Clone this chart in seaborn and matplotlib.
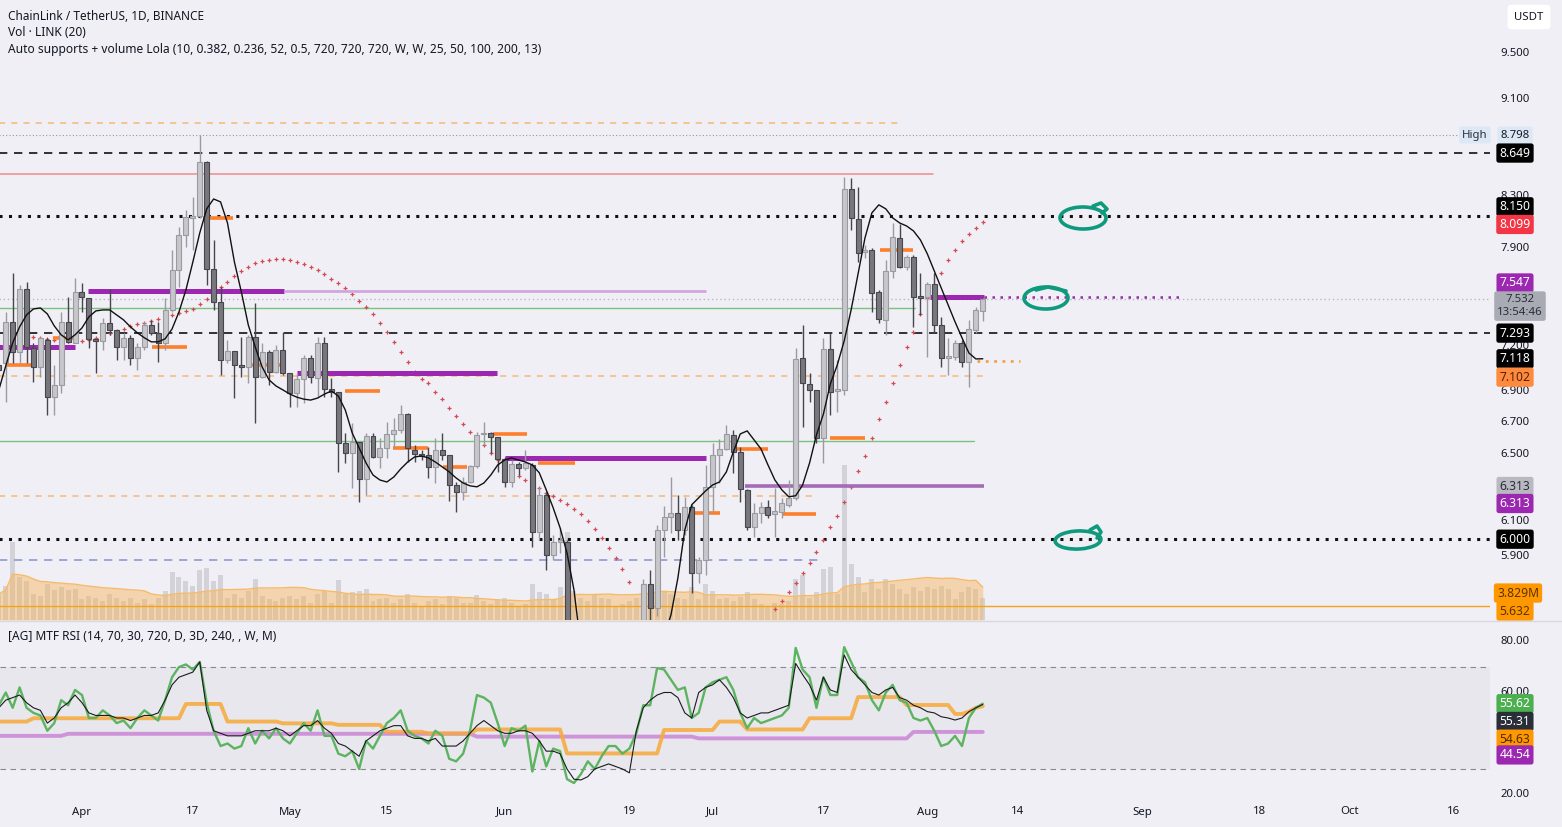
import numpy as np
import pandas as pd
import matplotlib
matplotlib.use("Agg")
import matplotlib.pyplot as plt
import seaborn as sns
from matplotlib.patches import Ellipse
from matplotlib.lines import Line2D
from matplotlib.ticker import NullLocator

# ---------------- DATA ----------------
first_date = "2023-03-20"
last_date = "2023-08-09"
ref_date = "2023-04-01"

opens = [7.076, 7.090, 7.371, 7.164, 7.604, 7.191, 7.063, 7.247, 6.864, 6.944,
         7.371, 7.226, 7.583, 7.540, 7.254, 7.240, 7.364, 7.315, 7.198, 7.261,
         7.124, 7.198, 7.350, 7.295, 7.226, 7.455, 7.743, 8.004, 8.134, 8.149,
         8.577, 7.750, 7.512, 7.110, 7.171, 7.076, 7.063, 7.267, 6.997, 7.164,
         7.030, 7.178, 7.023, 6.891, 6.984, 7.124, 6.990, 7.226, 6.918, 6.898,
         6.572, 6.510, 6.579, 6.352, 6.616, 6.486, 6.541, 6.629, 6.654, 6.755,
         6.529, 6.504, 6.498, 6.425, 6.529, 6.498, 6.316, 6.275, 6.334, 6.431,
         6.629, 6.635, 6.610, 6.474, 6.334, 6.443, 6.419, 6.437, 6.042, 6.258,
         5.911, 5.985, 5.985, 5.25, 5.30, 5.22, 5.28, 5.12, 5.19, 5.30,
         5.35, 5.26, 5.31, 5.40, 5.75, 5.62, 6.053, 6.129, 6.152, 6.053,
         6.187, 5.811, 5.883, 6.305, 6.498, 6.535, 6.623, 6.517, 6.287, 6.071,
         6.152, 6.187, 6.146, 6.158, 6.199, 6.240, 7.124, 6.951, 6.911, 6.604,
         7.184, 6.904, 6.911, 8.360, 8.126, 7.876, 7.891, 7.583, 7.385, 7.736,
         7.981, 7.765, 7.839, 7.554, 7.547, 7.641, 7.350, 7.124, 7.130, 7.226,
         7.097, 7.315, 7.448]
highs = [7.110, 7.441, 7.721, 7.633, 7.655, 7.226, 7.267, 7.261, 7.076, 7.441,
         7.547, 7.685, 7.648, 7.540, 7.254, 7.399, 7.604, 7.315, 7.295, 7.281,
         7.226, 7.371, 7.385, 7.371, 7.540, 7.891, 8.064, 8.196, 8.296, 8.798,
         8.585, 7.966, 7.619, 7.247, 7.171, 7.267, 7.281, 7.505, 7.226, 7.178,
         7.212, 7.302, 7.023, 7.023, 7.144, 7.144, 7.267, 7.267, 6.990, 6.898,
         6.635, 6.698, 6.579, 6.635, 6.635, 6.604, 6.704, 6.730, 6.813, 6.762,
         6.560, 6.529, 6.548, 6.604, 6.635, 6.498, 6.334, 6.364, 6.437, 6.641,
         6.704, 6.641, 6.610, 6.486, 6.467, 6.455, 6.529, 6.449, 6.305, 6.269,
         6.025, 6.065, 5.996, 5.42, 5.34, 5.38, 5.40, 5.25, 5.35, 5.41,
         5.40, 5.35, 5.45, 5.78, 5.83, 6.08, 6.193, 6.364, 6.258, 6.246,
         6.199, 5.900, 6.437, 6.572, 6.597, 6.685, 6.654, 6.548, 6.293, 6.210,
         6.216, 6.228, 6.299, 6.240, 6.346, 7.191, 7.350, 7.023, 6.911, 7.261,
         7.295, 7.110, 8.455, 8.447, 8.375, 7.928, 7.906, 7.597, 7.816, 8.095,
         8.087, 7.854, 7.854, 7.721, 7.655, 7.721, 7.406, 7.261, 7.247, 7.247,
         7.385, 7.476, 7.540]
lows = [7.010, 6.832, 7.090, 7.090, 7.090, 6.964, 6.997, 6.749, 6.749, 6.891,
        7.226, 7.226, 7.441, 7.191, 7.023, 7.178, 7.281, 7.110, 7.110, 7.076,
        7.043, 7.178, 7.281, 7.097, 7.178, 7.441, 7.619, 7.913, 7.891, 8.134,
        7.633, 7.455, 7.010, 7.090, 6.858, 6.997, 6.957, 6.698, 6.990, 6.944,
        7.023, 7.010, 6.800, 6.800, 6.825, 6.957, 6.864, 6.864, 6.864, 6.395,
        6.449, 6.299, 6.216, 6.258, 6.480, 6.419, 6.480, 6.541, 6.635, 6.455,
        6.455, 6.467, 6.358, 6.328, 6.467, 6.222, 6.157, 6.228, 6.328, 6.419,
        6.560, 6.510, 6.395, 6.305, 6.305, 6.376, 6.407, 5.956, 5.996, 5.828,
        5.883, 5.922, 4.95, 5.17, 5.14, 5.18, 5.08, 5.00, 5.13, 5.26,
        5.22, 5.20, 5.28, 5.38, 5.55, 5.58, 5.900, 6.036, 5.996, 6.025,
        5.703, 5.757, 5.800, 6.152, 6.328, 6.529, 6.389, 6.216, 6.053, 6.013,
        6.094, 6.123, 6.013, 6.123, 6.187, 6.228, 6.673, 6.832, 6.572, 6.449,
        6.749, 6.768, 6.878, 8.041, 7.801, 7.831, 7.441, 7.364, 7.281, 7.685,
        7.758, 7.743, 7.336, 7.420, 7.130, 7.295, 7.063, 7.010, 7.110, 7.063,
        6.931, 7.295, 7.378]
closes = [7.043, 7.371, 7.164, 7.604, 7.198, 7.063, 7.261, 6.864, 6.944, 7.371,
          7.233, 7.583, 7.547, 7.254, 7.240, 7.364, 7.315, 7.198, 7.261, 7.124,
          7.198, 7.350, 7.295, 7.226, 7.455, 7.743, 8.004, 8.142, 8.149, 8.577,
          7.750, 7.512, 7.110, 7.171, 7.076, 7.063, 7.267, 6.997, 7.164, 7.030,
          7.178, 7.023, 6.891, 6.984, 7.124, 6.997, 7.226, 6.918, 6.898, 6.572,
          6.510, 6.579, 6.352, 6.616, 6.486, 6.541, 6.629, 6.654, 6.755, 6.541,
          6.504, 6.492, 6.425, 6.529, 6.498, 6.316, 6.275, 6.334, 6.431, 6.623,
          6.635, 6.610, 6.474, 6.334, 6.443, 6.419, 6.449, 6.042, 6.258, 5.911,
          5.985, 5.996, 5.25, 5.30, 5.22, 5.28, 5.12, 5.19, 5.30, 5.35,
          5.26, 5.31, 5.40, 5.75, 5.62, 6.053, 6.129, 6.152, 6.053, 6.187,
          5.811, 5.883, 6.305, 6.498, 6.535, 6.629, 6.517, 6.293, 6.071, 6.152,
          6.187, 6.140, 6.164, 6.210, 6.240, 7.117, 6.957, 6.911, 6.604, 7.184,
          6.898, 6.918, 8.360, 8.134, 7.868, 7.891, 7.576, 7.392, 7.736, 7.989,
          7.765, 7.839, 7.547, 7.540, 7.641, 7.350, 7.124, 7.137, 7.226, 7.097,
          7.322, 7.455, 7.532]
volume_m = [3.0, 4.0, 9.0, 5.0, 4.5, 3.0, 2.8, 4.2, 3.5, 3.8,
            3.5, 3.6, 2.4, 2.8, 2.6, 2.2, 3.0, 2.5, 2.2, 2.6,
            2.0, 2.4, 1.8, 2.6, 3.4, 5.6, 5.0, 4.5, 4.0, 5.8,
            6.0, 4.5, 5.2, 2.5, 3.0, 2.6, 3.4, 4.8, 2.8, 2.4,
            2.2, 2.6, 2.8, 2.4, 2.8, 2.0, 3.0, 3.4, 2.0, 4.6,
            3.0, 3.2, 3.4, 3.6, 2.2, 2.4, 2.6, 2.0, 2.4, 3.0,
            2.0, 1.6, 2.2, 2.4, 1.8, 2.8, 2.6, 2.0, 2.0, 2.9,
            2.2, 1.8, 2.4, 2.6, 2.0, 1.6, 1.8, 4.2, 3.2, 3.0,
            2.4, 3.8, 10.2, 3.4, 2.6, 2.2, 2.9, 2.6, 2.4, 1.6,
            1.8, 2.2, 2.6, 3.8, 3.6, 4.8, 3.4, 3.0, 2.6, 2.4,
            3.8, 2.4, 4.2, 3.4, 2.4, 2.6, 2.2, 2.7, 3.3, 2.4,
            1.8, 1.6, 2.0, 1.8, 2.2, 4.8, 5.2, 2.6, 3.2, 5.9,
            6.1, 3.0, 18.0, 6.5, 5.0, 3.3, 4.8, 3.6, 4.8, 4.2,
            3.6, 3.0, 3.8, 3.4, 3.8, 3.6, 4.0, 3.6, 2.4, 3.2,
            3.8, 3.6, 2.6]
# smoothed black curve of the "Auto supports" script
curve = [6.911, 7.070, 7.226, 7.336, 7.420, 7.462, 7.469, 7.427, 7.343, 7.281,
         7.247, 7.281, 7.329, 7.406, 7.448, 7.455, 7.455, 7.420, 7.385, 7.336,
         7.295, 7.261, 7.233, 7.233, 7.254, 7.322, 7.441, 7.597, 7.801, 8.019,
         8.204, 8.281, 8.258, 8.095, 7.801, 7.583, 7.350, 7.198, 7.063, 6.977,
         6.937, 6.911, 6.884, 6.864, 6.851, 6.845, 6.858, 6.884, 6.904, 6.871,
         6.781, 6.635, 6.541, 6.449, 6.376, 6.346, 6.334, 6.364, 6.413, 6.455,
         6.486, 6.492, 6.480, 6.455, 6.425, 6.395, 6.358, 6.328, 6.311, 6.305,
         6.328, 6.376, 6.437, 6.467, 6.480, 6.467, 6.455, 6.437, 6.389, 6.287,
         6.181, 6.065, 5.922, 5.719, 5.42, 5.25, 5.16, 5.11, 5.09, 5.10,
         5.13, 5.17, 5.22, 5.28, 5.33, 5.39, 5.47, 5.585, 5.784, 6.053,
         6.199, 6.240, 6.281, 6.316, 6.334, 6.395, 6.517, 6.629, 6.648, 6.591,
         6.535, 6.437, 6.346, 6.287, 6.246, 6.252, 6.316, 6.449, 6.623, 6.755,
         6.951, 7.076, 7.240, 7.455, 7.714, 7.981, 8.173, 8.235, 8.204, 8.134,
         8.095, 8.072, 8.034, 7.966, 7.861, 7.736, 7.611, 7.491, 7.371, 7.261,
         7.157, 7.117, 7.118]
# red "+" projection arcs (day offsets from Apr 1)
arc1_first_day = -7
arc1 = [7.268, 7.261, 7.254, 7.247, 7.240, 7.240, 7.240, 7.240, 7.247, 7.261,
        7.274, 7.295, 7.308, 7.322, 7.343, 7.357, 7.364, 7.378, 7.392, 7.413,
        7.420, 7.434, 7.448, 7.462, 7.498, 7.533, 7.575, 7.619, 7.655, 7.699,
        7.736, 7.765, 7.794, 7.809, 7.816, 7.824, 7.824, 7.816, 7.801, 7.786,
        7.765, 7.743, 7.714, 7.677, 7.648, 7.611, 7.568, 7.519, 7.476, 7.427,
        7.364, 7.302, 7.233, 7.164, 7.097, 7.030, 6.984, 6.957, 6.898, 6.851,
        6.794, 6.743, 6.692, 6.641, 6.604, 6.560, 6.510, 6.467, 6.431, 6.395,
        6.370, 6.346, 6.322, 6.299, 6.269, 6.252, 6.228, 6.205, 6.175, 6.146,
        6.105, 6.059, 6.007, 5.950, 5.894, 5.834, 5.762]
arc2_first_day = 100
arc2 = [5.617, 5.660, 5.708, 5.757, 5.811, 5.866, 5.928, 5.996, 6.071, 6.134,
        6.216, 6.305, 6.401, 6.492, 6.604, 6.723, 6.832, 6.957, 7.076, 7.198,
        7.302, 7.427, 7.540, 7.633, 7.721, 7.816, 7.891, 7.958, 8.011, 8.057, 8.099]

# horizontal levels: price, from-day, to-day (None = to right edge), kind
lvl_price = [8.900, 8.798, 8.649, 8.480, 8.150, 7.532, 7.469, 7.293, 7.003, 6.585, 6.252, 6.000, 5.883, 5.632]
lvl_from = [-12, -12, -12, -12, -12, -12, -12, -12, -12, -12, -12, -12, -12, -12]
lvl_to = [117.7, None, None, 122.8, None, None, 120.2, None, 130.3, 128.8, 105.8, None, 106.5, None]
lvl_kind = ["odash", "gdot", "kdash", "red", "kdot", "gdot2", "green", "kdash", "odash", "green", "odash", "kdot", "bdash", "osolid"]

# purple volume-profile levels
pur_price = [7.590, 7.590, 7.198, 7.023, 6.480, 6.313, 7.547, 7.547]
pur_from = [0.9, 29.1, -12.0, 31.0, 61.0, 95.7, 122.4, 130.2]
pur_to = [29.1, 90.0, -1.0, 59.9, 90.0, 130.2, 130.2, 158.9]
pur_kind = ["thick", "light", "thick", "thick", "thick", "mid", "thick", "dot"]

# orange support ticks
sup_price = [7.076, 7.261, 7.198, 8.134, 7.076, 6.904, 6.541, 6.425, 6.629, 6.449, 6.152, 6.535, 6.146, 6.604, 7.891]
sup_from = [-10.8, -4.2, 10.1, 17.5, 23.8, 38.0, 44.9, 52.1, 59.3, 65.8, 87.7, 93.9, 101.2, 107.9, 115.2]
sup_to = [-7.1, -0.7, 15.2, 21.8, 29.0, 43.0, 49.9, 55.6, 64.2, 71.1, 92.1, 99.0, 106.0, 113.0, 119.9]
sup_last = (7.102, 129.1, 135.4)

# MTF RSI
rsi_d = [55, 60, 54, 62, 54, 52, 51, 45, 48, 57,
         55, 61, 59, 50, 50, 53, 51, 48, 49, 46,
         50, 53, 51, 49, 57, 66, 70, 71, 69, 72,
         56, 45, 39, 40, 38, 39, 46, 40, 45, 42,
         46, 42, 40, 44, 48, 45, 53, 43, 43, 36,
         35, 37, 30, 41, 38, 43, 48, 50, 53, 45,
         43, 42, 40, 45, 43, 34, 33, 36, 45, 59,
         58, 56, 48, 39, 46, 45, 47, 29, 41, 31,
         38, 37, 26, 24.5, 28, 33, 30, 35, 39, 39,
         36, 38, 44, 55, 55, 69.6, 69, 65, 61, 62,
         50, 52, 62, 64, 65, 66, 61, 52, 46, 50,
         48, 49, 50, 51, 54, 77.5, 69, 66, 54, 66,
         59, 59, 77.8, 72, 66, 64, 57, 53, 60, 63,
         57, 56, 50, 49, 50, 45, 39, 40, 43, 39,
         50, 54, 55.62]
rsi_240 = [54, 57, 58, 59, 56, 54, 53, 48, 50, 54,
           56, 59, 56, 52, 51, 51, 51, 50, 50, 49,
           50, 51, 51, 52, 57, 63, 66, 67, 68, 72,
           53, 45, 44, 43, 43, 43, 44, 45, 45, 45,
           46, 45, 43, 45, 47, 47, 49, 46, 44, 40,
           39, 37, 35, 41, 43, 45, 46, 47, 47, 43,
           42, 42, 41, 42, 39, 39, 39, 41, 44, 47,
           49, 47, 45, 44, 44, 45, 45, 44, 41, 37,
           37, 36, 30, 26, 25.7, 27, 30, 31, 32, 31,
           30, 28.5, 45, 54, 57, 59, 60, 60, 58, 52,
           50, 60, 62, 63, 65, 62, 58, 52, 50, 51,
           52, 52, 53, 54, 55, 71.4, 67, 63, 57, 66,
           61, 60, 74.7, 69, 66, 63, 60, 59, 61, 62,
           58, 57, 55, 54, 52.5, 52, 50.5, 50, 49.2, 50,
           52.5, 54, 55.31]
rsi_3d_start = [-12, -7, 15, 21, 29, 37, 44, 50, 57, 70, 84, 92, 96, 105, 112, 119, 126, 128, 129, 130]
rsi_3d_level = [48.6, 49.9, 55.5, 48.6, 47.9, 47.3, 44.6, 44.0, 45.5, 36.1, 45.3, 48.6, 45.5, 49.9, 58.2, 55.1, 51.6, 52.5, 54.0, 54.63]
rsi_m_start = [-12, -2, 57, 89, 120]
rsi_m_level = [43.0, 43.8, 42.7, 42.0, 44.54]

price_ticks = [9.5, 9.1, 8.3, 7.9, 7.2, 6.9, 6.7, 6.5, 6.1, 5.9]
rsi_ticks = [80, 60, 20]
date_ticks = ["2023-04-01", "2023-04-17", "2023-05-01", "2023-05-15", "2023-06-01", "2023-06-19", "2023-07-01",
              "2023-07-17", "2023-08-01", "2023-08-14", "2023-09-01", "2023-09-18", "2023-10-01", "2023-10-16"]
date_labels = ["Apr", "17", "May", "15", "Jun", "19", "Jul", "17", "Aug", "14", "Sep", "18", "Oct", "16"]

# ---------------- PREP ----------------
dates = pd.date_range(first_date, last_date, freq="D")
ref = pd.Timestamp(ref_date)
days = np.array((dates - ref).days, dtype=float)
o, h, l, c = map(np.array, (opens, highs, lows, closes))
vol = np.array(volume_m)
for arr in (o, h, l, c, vol, curve, rsi_d, rsi_240):
    assert len(arr) == len(days), len(arr)
vol_ma = pd.Series(vol).rolling(20, min_periods=1).mean().values


def expand_steps(starts, levels):
    out = []
    for d in days:
        idx = max(i for i, s in enumerate(starts) if s <= d)
        out.append(levels[idx])
    return np.array(out)


rsi_3d = expand_steps(rsi_3d_start, rsi_3d_level)
rsi_m = expand_steps(rsi_m_start, rsi_m_level)
df_rsi = pd.DataFrame({"day": days, "d": rsi_d, "h4": rsi_240, "d3": rsi_3d, "m": rsi_m})
df_curve = pd.DataFrame({"day": days, "v": curve})
arc1_days = np.arange(len(arc1)) + arc1_first_day
arc2_days = np.arange(len(arc2)) + arc2_first_day

# ---------------- STYLE ----------------
W, H = 1562, 827
BG = "#f0eff5"
TXT = "#131722"
sns.set_theme(style="white")
plt.rcParams["font.family"] = ["Noto Sans", "DejaVu Sans"]

fig = plt.figure(figsize=(W / 100, H / 100), dpi=100, facecolor=BG)
XL = (-11.83, 203.2)
pane_w = 1490 / W
main_rect = [0, 1 - 620 / H, pane_w, 620 / H]
rsi_rect = [0, 1 - 800 / H, pane_w, 178 / H]

ax_v = fig.add_axes(main_rect)
ax = fig.add_axes(main_rect)
ax_r = fig.add_axes(rsi_rect)
ax.patch.set_visible(False)
for a in (ax_v, ax, ax_r):
    a.set_facecolor(BG)
    for s in a.spines.values():
        s.set_visible(False)
    a.set_xlim(*XL)

# volume
ax_v.set_ylim(0, 620 / 8.62)
ax_v.bar(days, vol, width=0.72, color="#c6c6cd", alpha=0.7, lw=0)
ax_v.fill_between(days, 0, vol_ma, color="#f7b558", alpha=0.45, lw=0)
ax_v.plot(days, vol_ma, color="#f6bb6a", lw=1)
ax_v.set_xticks([]); ax_v.set_yticks([])

# price
ax.set_yscale("log")
ax.set_ylim(5.558, 9.998)
for a in (ax, ax_r):
    a.xaxis.set_major_locator(NullLocator()); a.xaxis.set_minor_locator(NullLocator())
    a.yaxis.set_major_locator(NullLocator()); a.yaxis.set_minor_locator(NullLocator())

lvl_styles = {
    "odash": dict(color="#f6b26b", lw=1.1, dashes=(4, 4), alpha=0.9),
    "gdot": dict(color="#9598a1", lw=0.8, dashes=(1, 2)),
    "gdot2": dict(color="#b8b9c2", lw=1.0, dashes=(1, 2)),
    "kdash": dict(color="#111111", lw=1.2, dashes=(5, 4)),
    "kdot": dict(color="#111111", lw=2.2, dashes=(1, 2.1)),
    "red": dict(color="#f08a8a", lw=1.1),
    "green": dict(color="#7cc27f", lw=1.0),
    "bdash": dict(color="#8c9ad4", lw=1.2, dashes=(5, 4)),
    "osolid": dict(color="#f7a21b", lw=1.0),
}
for p, f, t, k in zip(lvl_price, lvl_from, lvl_to, lvl_kind):
    ax.plot([f, t if t is not None else XL[1]], [p, p], zorder=2, **lvl_styles[k])

pur_styles = {
    "thick": dict(color="#9c27b0", lw=3.6, solid_capstyle="butt"),
    "light": dict(color="#d3a5de", lw=2.0, solid_capstyle="butt"),
    "mid": dict(color="#a46cb6", lw=2.6, solid_capstyle="butt"),
    "dot": dict(color="#9c27b0", lw=1.8, dashes=(1, 2.2)),
}
for p, f, t, k in zip(pur_price, pur_from, pur_to, pur_kind):
    ax.plot([f, t], [p, p], zorder=4, **pur_styles[k])

for p, f, t in zip(sup_price, sup_from, sup_to):
    ax.plot([f, t], [p, p], color="#ff7f2a", lw=2.6, zorder=4, solid_capstyle="butt")
ax.plot([sup_last[1], sup_last[2]], [sup_last[0]] * 2, color="#f5a04a", lw=2.0, dashes=(1, 2), zorder=4)

# red projection markers
sns.scatterplot(x=arc1_days, y=arc1, marker="+", s=9, color="#d24a52", linewidth=0.9, ax=ax, zorder=3)
sns.scatterplot(x=arc2_days, y=arc2, marker="+", s=9, color="#d24a52", linewidth=0.9, ax=ax, zorder=3)

# candles
up = c >= o
face = np.where(up, "#c6c6cb", "#77777d")
edge = np.where(up, "#9a9aa1", "#46464c")
ax.vlines(days, l, h, colors=edge, lw=1.0, zorder=5)
ax.bar(days, np.maximum(np.abs(c - o), 0.006), bottom=np.minimum(o, c), width=0.72,
       color=face, edgecolor=edge, linewidth=0.8, zorder=6)

# smoothed curve
sns.lineplot(data=df_curve, x="day", y="v", color="#111111", lw=1.0, ax=ax, zorder=7, estimator=None)
ax.set_xlabel(""); ax.set_ylabel("")
ax.set_xlim(*XL); ax.set_ylim(5.558, 9.998)

# RSI pane
ax_r.set_ylim(17.84, 87.65)
ax_r.axhspan(30, 70, xmin=0, xmax=1, color="#e8e7ed", lw=0, zorder=0)
ax_r.axhline(70, color="#868993", lw=0.8, dashes=(5, 4), zorder=1)
ax_r.axhline(30, color="#868993", lw=0.8, dashes=(5, 4), zorder=1)
sns.lineplot(data=df_rsi, x="day", y="m", color="#ce93d8", lw=2.8, ax=ax_r, estimator=None, zorder=2)
sns.lineplot(data=df_rsi, x="day", y="d3", color="#f7a93a", lw=2.8, alpha=0.85, ax=ax_r, estimator=None, zorder=3)
sns.lineplot(data=df_rsi, x="day", y="d", color="#5cb360", lw=1.7, ax=ax_r, estimator=None, zorder=4)
sns.lineplot(data=df_rsi, x="day", y="h4", color="#1b1b1f", lw=0.8, ax=ax_r, estimator=None, zorder=5)
ax_r.set_xlabel(""); ax_r.set_ylabel("")
ax_r.set_xlim(*XL)
ax_r.xaxis.set_major_locator(NullLocator()); ax_r.yaxis.set_major_locator(NullLocator())

# pane separator
fig.add_artist(Line2D([0, 1], [1 - 621 / H] * 2, color="#d8d8de", lw=1))

FS = 8.2


def label(axis, value, text, fc=None, tc=TXT, dy=0, bold=False, xo=25, fs=None):
    if fs is None:
        fs = 8.7 if fc else FS
    bb = dict(boxstyle="round,pad=0.26,rounding_size=0.2", fc=fc, ec="none") if fc else None
    axis.annotate(text, xy=(1.0, value), xycoords=("axes fraction", "data"), xytext=(xo, -dy),
                  textcoords="offset pixels", ha="center", va="center", fontsize=fs, color=tc,
                  fontweight="bold" if bold else "normal", bbox=bb, annotation_clip=False, zorder=20)


for t in price_ticks:
    label(ax, t, f"{t:.3f}")
label(ax, 8.798, "High", fc="#dde8f6", tc="#2a2e39", xo=-15, fs=FS)
label(ax, 8.798, "8.798", fc="#dde8f6", tc=TXT, fs=FS)
label(ax, 8.649, "8.649", fc="#000000", tc="white", bold=True)
label(ax, 8.150, "8.150", fc="#000000", tc="white", bold=True, dy=-9)
label(ax, 8.099, "8.099", fc="#f23645", tc="white", bold=True, dy=2)
label(ax, 7.547, "7.547", fc="#9c27b0", tc="white", bold=True, dy=-14)
label(ax, 7.532, "7.532\n13:54:46", fc="#a9abb4", tc="#2a2e39", dy=7, xo=30, fs=FS)
label(ax, 7.293, "7.293", fc="#000000", tc="white", bold=True)
label(ax, 7.118, "7.118", fc="#000000", tc="white", bold=True)
label(ax, 7.102, "7.102", fc="#ff8a3d", tc="#4a2308", dy=16)
label(ax, 6.313, "6.313", fc="#b9bac1", tc="#2a2e39", dy=1)
label(ax, 6.313, "6.313", fc="#9c27b0", tc="white", bold=True, dy=18)
label(ax, 6.000, "6.000", fc="#000000", tc="white", bold=True)
label(ax, 5.632, "3.829M", fc="#ff9800", tc="#5a3300", dy=-13, xo=28)
label(ax, 5.632, "5.632", fc="#ff9800", tc="#5a3300", dy=5)

for t in rsi_ticks:
    label(ax_r, t, f"{t:.2f}")
label(ax_r, 55.62, "55.62", fc="#4caf50", tc="white", bold=True)
label(ax_r, 55.31, "55.31", fc="#2a2e39", tc="white", bold=True, dy=17)
label(ax_r, 54.63, "54.63", fc="#ff9800", tc="#4a2a00", dy=33)
label(ax_r, 44.54, "44.54", fc="#9c27b0", tc="white", bold=True, dy=23)

for dstr, lab in zip(date_ticks, date_labels):
    dd = (pd.Timestamp(dstr) - ref).days
    ax_r.annotate(lab, xy=(dd, 0), xycoords=("data", "axes fraction"), xytext=(0, -12),
                  textcoords="offset pixels", ha="center", va="center", fontsize=FS, color=TXT,
                  annotation_clip=False)

# header texts
fig.text(8 / W, 1 - 16 / H, "ChainLink / TetherUS, 1D, BINANCE", fontsize=8.5, color=TXT,
         fontweight="bold", va="center", ha="left")
fig.text(8 / W, 1 - 33 / H, "Vol · LINK (20)", fontsize=8.6, color=TXT, va="center", ha="left")
fig.text(8 / W, 1 - 50 / H,
         "Auto supports + volume Lola (10, 0.382, 0.236, 52, 0.5, 720, 720, 720, W, W, 25, 50, 100, 200, 13)",
         fontsize=8.6, color=TXT, va="center", ha="left")
fig.text(8 / W, 1 - 636 / H, "[AG] MTF RSI (14, 70, 30, 720, D, 3D, 240, , W, M)", fontsize=8.6,
         color=TXT, va="center", ha="left")
fig.text(1529 / W, 1 - 17 / H, "USDT", fontsize=8.2, color=TXT, va="center", ha="center",
         bbox=dict(boxstyle="round,pad=0.6,rounding_size=0.35", fc="white", ec="none"))

# hand-drawn teal ellipses
TEAL = "#0f9a7e"
for (cx, cy, ew, eh, ang, tail) in [
    (1083, 218, 46, 22, -4, [(1093, 206), (1101, 203), (1107, 209), (1102, 213)]),
    (1046, 298, 44, 22, 8, [(1036, 290), (1048, 287), (1066, 291)]),
    (1078, 540, 46, 18, 8, [(1090, 530), (1097, 526), (1101, 532), (1097, 538)]),
]:
    fig.add_artist(Ellipse((cx / W, 1 - cy / H), ew / W, eh / H, angle=ang, transform=fig.transFigure,
                           fill=False, ec=TEAL, lw=2.6))
    tx, ty = zip(*tail)
    fig.add_artist(Line2D([x / W for x in tx], [1 - y / H for y in ty], color=TEAL, lw=2.6,
                          solid_capstyle="round", transform=fig.transFigure))

fig.savefig("out.png", dpi=100, facecolor=BG)
